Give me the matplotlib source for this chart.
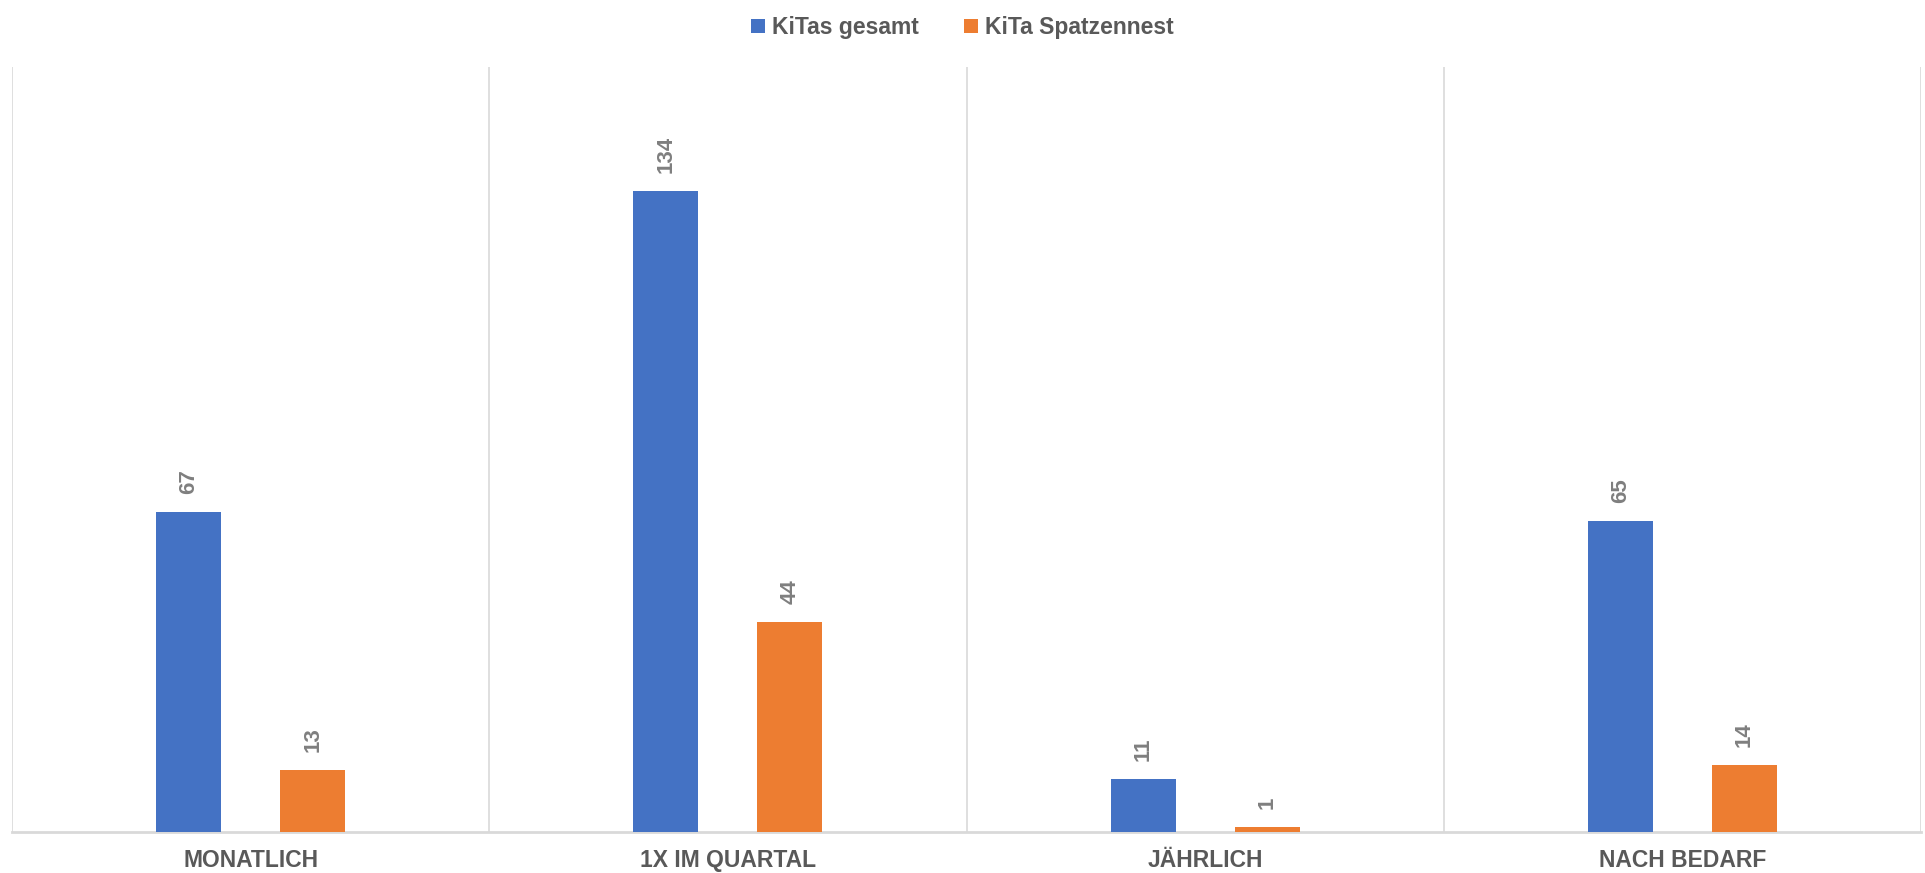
import numpy as np
import matplotlib.pyplot as plt

categories = ["MONATLICH", "1X IM QUARTAL", "JÄHRLICH", "NACH BEDARF"]
kitas_gesamt = [67, 134, 11, 65]
kita_spatzennest = [13, 44, 1, 14]

blue = "#4472C4"
orange = "#ED7D31"
grid_col = "#D9D9D9"

plt.rcParams['font.family'] = ['Liberation Sans', 'DejaVu Sans']

fig = plt.figure(figsize=(19.25, 8.73), dpi=100)
ax = fig.add_axes([12 / 1925, 41 / 873, 1909 / 1925, 765 / 873])

x = np.arange(len(categories))
w = 0.136
off = 0.13
b1 = ax.bar(x - off, kitas_gesamt, w, color=blue, label="KiTas gesamt", zorder=3)
b2 = ax.bar(x + off, kita_spatzennest, w, color=orange, label="KiTa Spatzennest", zorder=3)

for bars, vals in ((b1, kitas_gesamt), (b2, kita_spatzennest)):
    for rect, v in zip(bars, vals):
        ax.annotate(str(v), (rect.get_x() + rect.get_width() / 2, v),
                    xytext=(0, 13), textcoords="offset points",
                    ha="center", va="bottom", rotation=90,
                    fontsize=16, fontweight="bold", color="#7F7F7F")

ax.set_xlim(-0.5, len(categories) - 0.5)
ax.set_ylim(0, 160)
ax.set_yticks([])
ax.set_xticks(x)
ax.set_xticklabels(categories, fontsize=16.5, fontweight="bold", color="#595959")
ax.tick_params(axis="x", length=0, pad=12)

# vertical separators between categories
for b in np.arange(-0.5, len(categories), 1.0):
    ax.axvline(b, color=grid_col, lw=1.2, zorder=1)

for s in ["top", "right", "left"]:
    ax.spines[s].set_visible(False)
ax.spines["bottom"].set_color(grid_col)
ax.spines["bottom"].set_linewidth(2)

leg = fig.legend(handles=[b1, b2], loc="upper center", bbox_to_anchor=(0.5, 1.005),
                 ncol=2, frameon=False, handlelength=0.6, handleheight=0.6,
                 handletextpad=0.3, columnspacing=2.0,
                 prop={"size": 16.5, "weight": "bold"})
for t in leg.get_texts():
    t.set_color("#595959")

fig.savefig("out.png", dpi=100)
